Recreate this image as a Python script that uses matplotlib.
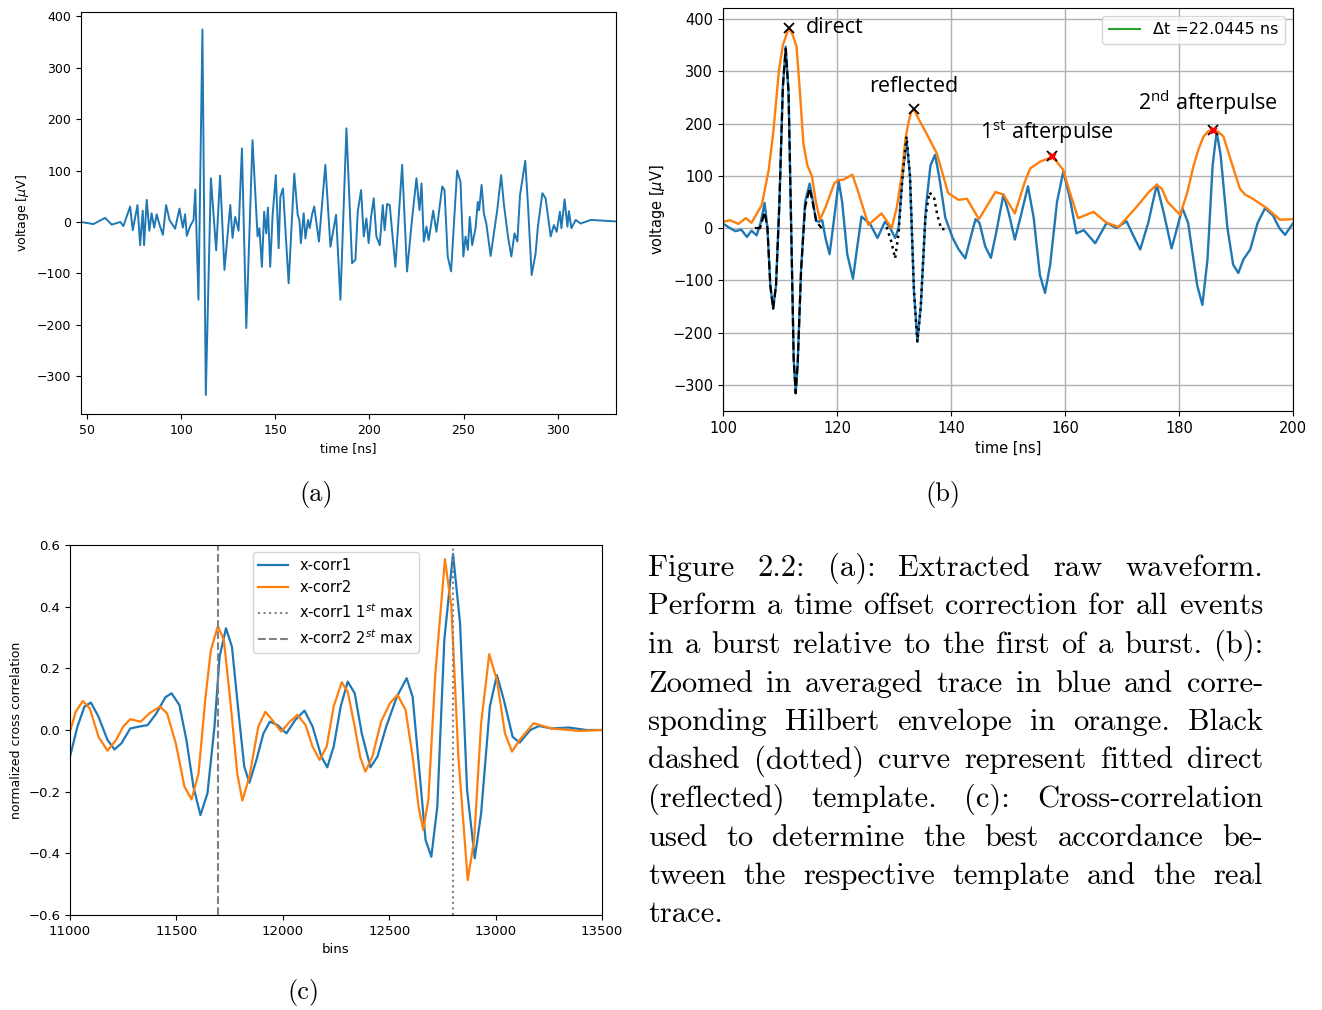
import numpy as np
import matplotlib
matplotlib.use("Agg")
import matplotlib.pyplot as plt

# ---- (a) extracted raw waveform: read-off extrema (time ns, voltage uV) ----
t_raw = [46.8, 53.4, 59.6, 63.1, 67.7, 69.3, 72.9, 74.3, 76.8, 78.2, 79.6, 80.3, 81.7, 83.1,
         84.3, 85.7, 87.0, 88.4, 90.3, 92.0, 93.8, 96.8, 99.1, 100.9, 102.1, 103.0, 104.8,
         106.6, 107.5, 109.2, 111.3, 113.1, 115.8, 118.6, 120.7, 123.0, 126.1, 127.3, 128.7,
         130.5, 132.3, 134.6, 137.9, 140.6, 141.6, 142.9, 144.1, 145.2, 146.1, 147.3, 148.6,
         150.3, 151.8, 152.7, 154.1, 157.1, 160.1, 161.9, 162.8, 163.6, 165.1, 166.0, 167.4,
         168.3, 169.5, 170.7, 173.2, 176.6, 179.3, 182.3, 184.6, 187.8, 190.8, 192.6, 193.8,
         195.6, 197.0, 198.4, 199.6, 200.9, 202.3, 203.7, 205.5, 207.1, 208.1, 209.4, 210.8,
         213.8, 217.4, 220.0, 222.7, 225.0, 226.6, 227.7, 228.9, 230.3, 231.5, 233.9, 235.6,
         238.7, 239.9, 241.6, 243.4, 246.6, 248.4, 249.9, 251.1, 252.3, 253.3, 254.6, 256.4,
         257.6, 258.3, 259.6, 260.8, 262.1, 264.4, 267.9, 270.0, 271.4, 273.6, 275.4, 277.1,
         278.6, 280.0, 282.8, 284.2, 286.2, 288.3, 289.5, 291.9, 293.6, 296.3, 298.0, 299.5,
         301.2, 302.0, 303.7, 305.2, 306.0, 307.3, 309.6, 312.2, 317.6, 331.7]
v_raw = [0, -4, 8, -5, 0, -8, 30, -16, 33, -45, 22, -45, 43, -17,
         17, -11, 15, -4, -25, 33, 4, -13, 26, -11, 15, -27, -8,
         4, 63, -151, 374, -336, 85, -55, 90, -93, 33, -31, 10,
         -17, 143, -206, 159, -28, -12, -87, 20, -22, 28, -87, 14,
         91, -51, 49, 65, -119, 94, 14, 4, -41, 17, -32, 4,
         -12, 14, 30, -38, 111, -48, 14, -151, 182, -80, -73, 20,
         62, -28, 7, -41, 10, 46, -28, -45, 33, -16, 35, 33,
         -87, 111, -96, 7, 85, 23, 75, -38, -9, -35, 22, -19,
         69, 62, -67, -96, 100, 78, -67, -28, -54, 10, -45, -12,
         39, 23, 72, 17, -3, -66, 23, 91, 36, -28, -67, -22,
         -38, 52, 119, 36, -103, -61, -9, 56, 46, -28, -6, -19,
         20, -12, 44, -9, 21, -12, 4, -3, 4, 1]

# ---- (b) zoomed averaged trace, Hilbert envelope, fitted templates ----
t_avg = [100.0, 100.35, 101.2, 102.2, 103.2, 104.2, 105.0, 105.9, 106.6, 107.3, 107.8, 108.3,
         108.8, 109.3, 109.9, 110.5, 111.0, 111.5, 112.0, 112.4, 112.75, 113.1, 113.7, 114.4,
         115.2, 115.8, 116.3, 116.8, 117.4, 118.0, 118.7, 119.4, 120.3, 120.9, 121.8, 122.8,
         123.5, 124.3, 125.8, 127.1, 128.4, 129.2, 130.2, 130.8, 131.5, 132.2, 132.8, 133.5,
         134.1, 134.7, 135.6, 136.4, 137.2, 137.9, 139.0, 140.3, 141.3, 142.5, 143.4, 144.3,
         145.0, 146.0, 147.0, 147.9, 149.2, 150.1, 151.2, 152.4, 153.5, 154.5, 155.6, 156.5,
         157.4, 158.6, 159.7, 160.8, 162.0, 163.3, 165.3, 167.3, 169.0, 170.8, 172.0, 173.2,
         174.6, 176.1, 177.3, 178.7, 180.6, 181.6, 183.2, 184.1, 185.0, 185.9, 186.6, 187.3,
         188.5, 189.5, 190.4, 191.3, 192.5, 193.8, 195.1, 196.5, 197.6, 198.6, 200.0]
v_avg = [8, 6, 0, -6, -3, -17, -5, -14, 10, 48, 0, -110,
         -154, -110, 50, 270, 347, 260, -20, -250, -316, -260, -80, 50,
         85, 50, 14, 12, 15, -20, -50, 10, 90, 50, -50, -97,
         -40, 22, 8, -19, 12, 3, -19, 0, 100, 171, 100, -120,
         -217, -150, 40, 120, 140, 100, 20, -19, -40, -58, -20, 17,
         10, -35, -57, -10, 64, 30, -22, 30, 80, 20, -90, -124,
         -70, 50, 108, 60, -10, -4, -29, 10, 0, 13, -15, -41,
         10, 83, 30, -39, 38, 10, -110, -147, -60, 120, 184, 140,
         0, -70, -86, -60, -41, 10, 38, 24, 0, -13, 9]
t_env = [100.0, 101.2, 102.7, 104.0, 105.0, 106.8, 108.0, 108.8, 109.8, 110.5, 111.2, 111.6,
         112.2, 112.9, 113.5, 114.1, 114.8, 115.6, 116.3, 117.0, 118.0, 118.8, 119.5, 120.2,
         121.0, 122.7, 123.7, 125.5, 127.8, 129.6, 130.5, 131.4, 132.0, 132.5, 133.0, 133.5,
         134.5, 135.7, 137.5, 139.5, 141.3, 142.8, 144.9, 147.8, 149.2, 151.2, 153.0, 153.9,
         155.6, 156.8, 157.7, 158.7, 159.7, 160.8, 162.3, 165.0, 167.3, 169.4, 172.6, 174.8,
         176.1, 177.0, 178.0, 180.2, 181.5, 182.5, 183.4, 184.3, 185.1, 186.0, 186.9, 187.8,
         188.8, 189.8, 190.7, 191.6, 192.8, 195.4, 197.7, 200.0]
v_env = [12, 15, 8, 19, 10, 44, 110, 181, 300, 350, 372, 383,
         370, 347, 260, 162, 120, 99, 50, 16, 40, 64, 85, 92,
         92, 102, 70, 6, 28, 0, 40, 105, 170, 200, 222, 227,
         205, 181, 143, 67, 54, 56, 17, 69, 64, 28, 90, 114,
         127, 132, 137, 125, 111, 70, 19, 31, 10, 2, 41, 70,
         83, 75, 50, 25, 70, 117, 150, 175, 185, 188, 184, 175,
         140, 105, 75, 64, 57, 38, 16, 17]
t_direct = [105.6, 106.5, 107.3, 107.8, 108.3, 108.8, 109.3, 109.9, 110.5, 111.0, 111.5,
            112.0, 112.4, 112.75, 113.1, 113.7, 114.4, 115.2, 115.8, 116.4, 117.3]
v_direct = [0, 0, 30, 0, -110, -154, -110, 50, 270, 343, 260,
            -20, -250, -316, -260, -80, 40, 76, 45, 12, 0]
t_refl = [128.7, 129.5, 130.2, 130.8, 131.5, 132.2, 132.8, 133.5, 134.1, 134.7, 135.5,
          136.2, 137.0, 137.6, 138.3, 139.3]
v_refl = [2, -25, -58, -10, 100, 175, 100, -120, -217, -150, 20,
          68, 60, 25, -2, -2]

peak_names = ["direct", "reflected", "1$^{\\mathregular{st}}$ afterpulse", "2$^{\\mathregular{nd}}$ afterpulse"]
peak_t = [111.6, 133.5, 157.7, 186.0]
peak_v = [383, 227, 137, 188]
label_t = [114.6, 125.6, 145.1, 172.8]
label_v = [384, 271, 184, 239]
dt_label = "\u0394t =22.0445 ns"

# ---- (c) cross correlation ----
bins1 = [11002, 11035, 11068, 11098, 11134, 11176, 11209, 11242, 11283, 11324, 11365, 11406,
         11448, 11477, 11514, 11547, 11580, 11613, 11646, 11679, 11703, 11733, 11761, 11794,
         11819, 11843, 11876, 11909, 11939, 11975, 12017, 12058, 12102, 12140, 12181, 12209,
         12239, 12272, 12305, 12338, 12371, 12412, 12445, 12486, 12536, 12582, 12610, 12643,
         12671, 12698, 12726, 12759, 12800, 12833, 12866, 12902, 12932, 12973, 13006, 13039,
         13080, 13113, 13163, 13204, 13262, 13344, 13426, 13500]
xc1 = [-0.081, 0.011, 0.076, 0.089, 0.043, -0.032, -0.063, -0.043, 0.005, 0.011, 0.016, 0.054,
       0.106, 0.119, 0.081, -0.032, -0.184, -0.276, -0.205, 0.011, 0.238, 0.330, 0.270, 0.043,
       -0.119, -0.171, -0.097, -0.011, 0.027, 0.016, -0.011, 0.032, 0.063, 0.011, -0.086, -0.121,
       -0.054, 0.076, 0.157, 0.119, -0.011, -0.121, -0.086, 0.011, 0.108, 0.168, 0.108, -0.141,
       -0.357, -0.411, -0.249, 0.292, 0.571, 0.346, -0.195, -0.416, -0.27, 0.076, 0.178, 0.097,
       -0.022, -0.041, 0.0, 0.013, 0.005, 0.008, 0.0, 0.0]
bins2 = [11002, 11027, 11060, 11093, 11134, 11176, 11217, 11250, 11283, 11332, 11373, 11423,
         11456, 11497, 11538, 11571, 11604, 11637, 11662, 11695, 11723, 11753, 11786, 11810,
         11843, 11885, 11918, 11951, 11992, 12033, 12069, 12107, 12140, 12173, 12206, 12239,
         12277, 12305, 12338, 12363, 12388, 12421, 12462, 12503, 12539, 12577, 12610, 12638,
         12660, 12684, 12717, 12762, 12792, 12825, 12869, 12899, 12932, 12970, 13006, 13044,
         13077, 13113, 13179, 13262, 13393, 13500]
xc2 = [0.0, 0.059, 0.094, 0.07, -0.022, -0.067, -0.032, 0.011, 0.035, 0.027, 0.054, 0.076,
       0.054, -0.043, -0.184, -0.225, -0.141, 0.108, 0.259, 0.337, 0.292, 0.097, -0.141, -0.229,
       -0.151, 0.011, 0.059, 0.032, -0.005, 0.027, 0.049, 0.016, -0.054, -0.097, -0.054, 0.076,
       0.155, 0.124, 0.011, -0.086, -0.135, -0.086, 0.027, 0.086, 0.114, 0.065, -0.086, -0.249,
       -0.324, -0.227, 0.184, 0.554, 0.4, -0.086, -0.487, -0.357, 0.022, 0.246, 0.162, -0.011,
       -0.07, -0.032, 0.022, 0.005, -0.003, 0.0]
max1_bin = 12800
max2_bin = 11696

caption = ["Figure 2.2:  (a):  Extracted raw waveform.",
           "Perform a time offset correction for all events",
           "in a burst relative to the first of a burst. (b):",
           "Zoomed in averaged trace in blue and corre-",
           "sponding Hilbert envelope in orange.  Black",
           "dashed (dotted) curve represent fitted direct",
           "(reflected) template.  (c):  Cross-correlation",
           "used to determine the best accordance be-",
           "tween the respective template and the real",
           "trace."]

W, H = 1322, 1010
fig = plt.figure(figsize=(W/100, H/100), dpi=100)
BLUE, ORANGE = "#1f77b4", "#ff7f0e"

# ---- panel (a) ----
ax1 = fig.add_axes([81/W, 1-414/H, 535/W, 402/H])
ax1.plot(t_raw, v_raw, color=BLUE, lw=1.4)
ax1.set_xlim(46.8, 331)
ax1.set_ylim(-373, 408)
ax1.set_xticks([50, 100, 150, 200, 250, 300])
ax1.set_yticks([-300, -200, -100, 0, 100, 200, 300, 400])
ax1.tick_params(labelsize=9)
ax1.set_xlabel("time [ns]", fontsize=9)
ax1.set_ylabel("voltage [$\\mu$V]", fontsize=9)

# ---- panel (b) ----
ax2 = fig.add_axes([723/W, 1-411/H, 570/W, 403/H])
ax2.grid(True, color="#b0b0b0", lw=1.0)
ax2.set_axisbelow(True)
ax2.plot(t_avg, v_avg, color=BLUE, lw=1.7)
ax2.plot(t_env, v_env, color=ORANGE, lw=1.7)
ax2.plot(t_direct, v_direct, "k--", lw=1.6)
ax2.plot(t_refl, v_refl, "k:", lw=1.8)
ax2.plot([], [], color="#2ca02c", lw=1.5, label=dt_label)
for i in range(4):
    ax2.plot(peak_t[i], peak_v[i], "x", color="k", ms=7, mew=1.3)
    if i >= 2:
        ax2.plot(peak_t[i], peak_v[i], "x", color="red", ms=5, mew=2.2)
    ax2.text(label_t[i], label_v[i], peak_names[i], fontsize=15.5, family="Open Sans",
             va="center", ha="left")
ax2.set_xlim(100, 200)
ax2.set_ylim(-350, 421)
ax2.set_yticks([-300, -200, -100, 0, 100, 200, 300, 400])
ax2.tick_params(labelsize=10.5)
ax2.set_xlabel("time [ns]", fontsize=10.5)
ax2.set_ylabel("voltage [$\\mu$V]", fontsize=10.5)
ax2.legend(loc="upper right", fontsize=11.5)

# ---- panel (c) ----
ax3 = fig.add_axes([70/W, 1-915/H, 532/W, 370/H])
ax3.plot(bins1, xc1, color=BLUE, lw=1.6, label="x-corr1")
ax3.plot(bins2, xc2, color=ORANGE, lw=1.6, label="x-corr2")
ax3.axvline(max1_bin, color="grey", ls=":", lw=1.5, label="x-corr1 1$^{st}$ max")
ax3.axvline(max2_bin, color="grey", ls="--", lw=1.5, label="x-corr2 2$^{st}$ max")
ax3.set_xlim(11000, 13500)
ax3.set_ylim(-0.6, 0.6)
ax3.set_yticks([-0.6, -0.4, -0.2, 0.0, 0.2, 0.4, 0.6])
ax3.tick_params(labelsize=9.5)
ax3.set_xlabel("bins", fontsize=9.5)
ax3.set_ylabel("normalized cross correlation", fontsize=9)
ax3.legend(loc="upper center", fontsize=10.5)

# ---- sub-figure labels ----
for lab, x, y in [("(a)", 316, 494), ("(b)", 943, 494), ("(c)", 303, 992)]:
    fig.text(x/W, 1-y/H, lab, family="cmr10", fontsize=19, ha="center", va="center")

# ---- justified caption ----
renderer = fig.canvas.get_renderer()
x0, x1 = 648/W, 1263/W
cap_fs = 22
for i, line in enumerate(caption):
    y = 1 - (576 + i*38.5)/H
    words = line.split()
    objs = [fig.text(0, y, w, family="cmr10", fontsize=cap_fs, va="baseline") for w in words]
    widths = [o.get_window_extent(renderer).width/W for o in objs]
    if i == len(caption)-1 or len(words) == 1:
        gap = cap_fs*100/72*0.33/W
    else:
        gap = (x1 - x0 - sum(widths))/(len(words)-1)
    x = x0
    for o, w in zip(objs, widths):
        o.set_x(x)
        x += w + gap

fig.savefig("out.png", dpi=100)
